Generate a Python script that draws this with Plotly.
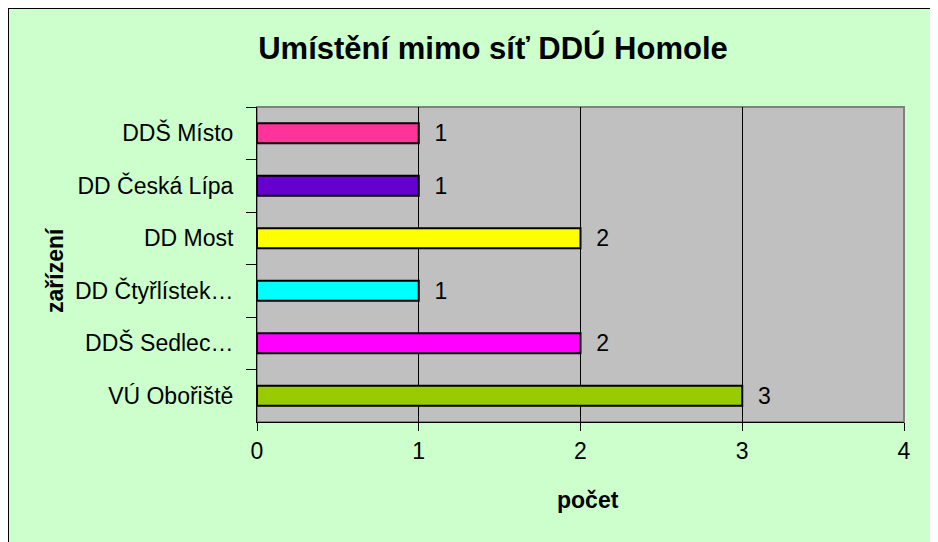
import plotly.graph_objects as go

# data, listed top to bottom as shown in the chart
zarizeni = ["DDŠ Místo", "DD Česká Lípa", "DD Most", "DD Čtyřlístek…", "DDŠ Sedlec…", "VÚ Obořiště"]
pocet = [1, 1, 2, 1, 2, 3]
barvy = ["#FF3399", "#6600CC", "#FFFF00", "#00FFFF", "#FF00FF", "#99CC00"]
x_ticks = [0, 1, 2, 3, 4]

# the page puts the figure 8px in from the top-left corner
W, H = 938, 542
L, R, T, B = 249, 42, 99, 128
pw, ph = W - L - R, H - T - B

def px_x(x):
    return (x - L) / pw

def px_y(y):
    return (H - B - y) / ph

fig = go.Figure()
fig.add_trace(go.Bar(
    y=zarizeni, x=pocet, orientation="h",
    marker=dict(color=barvy, line=dict(color="black", width=2)),
    width=0.38,
    text=pocet, texttemplate="  %{x}", textposition="outside",
    constraintext="none",
    textfont=dict(size=23, color="black"),
    cliponaxis=False,
))

fig.update_layout(
    width=W, height=H,
    margin=dict(l=L, r=R, t=T, b=B),
    paper_bgcolor="#CCFFCC", plot_bgcolor="#C0C0C0",
    font=dict(family="Liberation Sans, Arial", color="black"),
    showlegend=False,
    title=dict(text="<b>Umístění mimo síť DDÚ Homole</b>", x=485 / W, y=1 - 40 / H,
               xanchor="center", yanchor="middle", font=dict(size=31)),
    xaxis=dict(range=[0, 4], tickvals=x_ticks, showgrid=True, gridcolor="black", gridwidth=1,
               zeroline=False, showline=True, linecolor="black", linewidth=1,
               ticks="outside", ticklen=8, tickcolor="black", tickfont=dict(size=23)),
    yaxis=dict(autorange="reversed", showline=True, linecolor="black", linewidth=1,
               ticks="outside", ticklen=10, tickcolor="black", tickson="boundaries",
               tickfont=dict(size=23), ticklabelstandoff=18, showgrid=False),
    bargap=0.62,
)

# plot area border and chart frame
fig.add_shape(type="rect", xref="paper", yref="paper", x0=0, x1=1, y0=0, y1=1,
              line=dict(color="#808080", width=2), layer="below")
fig.add_shape(type="rect", xref="paper", yref="paper", x0=px_x(0), x1=px_x(W + 10),
              y0=px_y(H + 10), y1=px_y(0), line=dict(color="black", width=2))

fig.add_annotation(text="<b>zařízení</b>", xref="paper", yref="paper", x=px_x(47), y=px_y(262),
                   xanchor="center", yanchor="middle",
                   textangle=-90, showarrow=False, font=dict(size=23))
fig.add_annotation(text="<b>počet</b>", xref="paper", yref="paper", x=px_x(580), y=px_y(492),
                   xanchor="center", yanchor="middle",
                   showarrow=False, font=dict(size=23))

fig.write_html("out.html")
